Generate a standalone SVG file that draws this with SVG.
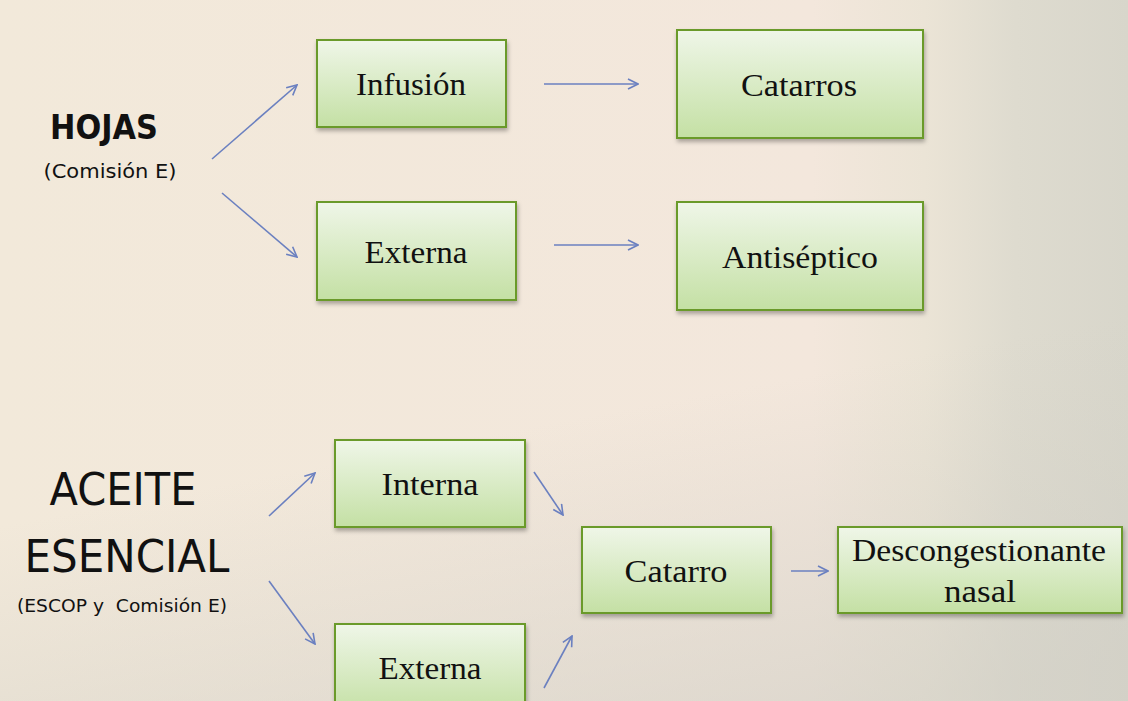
<svg xmlns="http://www.w3.org/2000/svg" width="1128" height="701" viewBox="0 0 1128 701">
<defs>
<linearGradient id="bg" x1="0" y1="0" x2="1" y2="0">
<stop offset="0" stop-color="#f2e9da"/>
<stop offset="0.72" stop-color="#f3e7dc"/>
<stop offset="0.82" stop-color="#ebe4d6"/>
<stop offset="0.9" stop-color="#dedbcf"/>
<stop offset="1" stop-color="#d8d6cb"/>
</linearGradient>
<linearGradient id="bg2" x1="0.5" y1="0" x2="0.8" y2="1">
<stop offset="0" stop-color="#d0cec5" stop-opacity="0"/>
<stop offset="0.55" stop-color="#d0cec5" stop-opacity="0"/>
<stop offset="1" stop-color="#d0cec5" stop-opacity="0.6"/>
</linearGradient>
<linearGradient id="box" x1="0" y1="0" x2="0" y2="1">
<stop offset="0" stop-color="#eff6e8"/>
<stop offset="1" stop-color="#c4e0a4"/>
</linearGradient>
<filter id="sh" x="-10%" y="-10%" width="130%" height="140%">
<feDropShadow dx="1" dy="3" stdDeviation="2" flood-color="#000" flood-opacity="0.3"/>
</filter>
<marker id="ah" viewBox="0 0 12 12" refX="11" refY="6" markerWidth="12" markerHeight="12" markerUnits="userSpaceOnUse" orient="auto">
<path d="M1,1 L11,6 L1,11" fill="none" stroke="#6b80c0" stroke-width="1.6"/>
</marker>
<style>
.b{fill:url(#box);stroke:#6a9a2c;stroke-width:2;filter:url(#sh)}
.t{font-family:"Liberation Serif","DejaVu Serif",serif;font-size:32px;fill:#111;text-anchor:middle}
.h{font-family:"Comic Sans MS","DejaVu Sans",sans-serif;fill:#111;text-anchor:middle}
.c line{stroke:#6b80c0;stroke-width:1.6;marker-end:url(#ah)}
</style>
</defs>
<rect width="1128" height="701" fill="url(#bg)"/>
<rect width="1128" height="701" fill="url(#bg2)"/>

<g id="hojas">
<text class="h" x="104" y="139" font-size="34" font-weight="bold" textLength="108" lengthAdjust="spacingAndGlyphs">HOJAS</text>
<text class="h" x="110" y="178" font-size="20" textLength="133" lengthAdjust="spacingAndGlyphs">(Comisión E)</text>
</g>
<g id="aceite">
<text class="h" x="123" y="505" font-size="44" textLength="147" lengthAdjust="spacingAndGlyphs">ACEITE</text>
<text class="h" x="127" y="572" font-size="44" textLength="205" lengthAdjust="spacingAndGlyphs">ESENCIAL</text>
<text class="h" x="122" y="612" font-size="18" xml:space="preserve" textLength="210" lengthAdjust="spacingAndGlyphs">(ESCOP y  Comisión E)</text>
</g>

<g id="infusion"><rect class="b" x="317" y="40" width="189" height="87"/><text class="t" x="411" y="95" textLength="110" lengthAdjust="spacingAndGlyphs">Infusión</text></g>
<g id="catarros"><rect class="b" x="677" y="30" width="246" height="108"/><text class="t" x="799" y="96" textLength="116" lengthAdjust="spacingAndGlyphs">Catarros</text></g>
<g id="externa1"><rect class="b" x="317" y="202" width="199" height="98"/><text class="t" x="416" y="263" textLength="103" lengthAdjust="spacingAndGlyphs">Externa</text></g>
<g id="antiseptico"><rect class="b" x="677" y="202" width="246" height="108"/><text class="t" x="800" y="268" textLength="156" lengthAdjust="spacingAndGlyphs">Antiséptico</text></g>
<g id="interna"><rect class="b" x="335" y="440" width="190" height="87"/><text class="t" x="430" y="495" textLength="97" lengthAdjust="spacingAndGlyphs">Interna</text></g>
<g id="externa2"><rect class="b" x="335" y="624" width="190" height="90"/><text class="t" x="430" y="679" textLength="103" lengthAdjust="spacingAndGlyphs">Externa</text></g>
<g id="catarro"><rect class="b" x="582" y="527" width="189" height="86"/><text class="t" x="676" y="582" textLength="103" lengthAdjust="spacingAndGlyphs">Catarro</text></g>
<g id="descongestionante"><rect class="b" x="838" y="527" width="284" height="86"/><text class="t" x="979" y="561" textLength="254" lengthAdjust="spacingAndGlyphs">Descongestionante</text><text class="t" x="980" y="602" textLength="72" lengthAdjust="spacingAndGlyphs">nasal</text></g>

<g id="connectors" class="c">
<line x1="212" y1="159" x2="297" y2="85"/>
<line x1="222" y1="193" x2="297" y2="257"/>
<line x1="544" y1="84" x2="638" y2="84"/>
<line x1="554" y1="245" x2="638" y2="245"/>
<line x1="269" y1="516" x2="315" y2="473"/>
<line x1="269" y1="581" x2="315" y2="644"/>
<line x1="534" y1="472" x2="563" y2="515"/>
<line x1="544" y1="688" x2="572" y2="636"/>
<line x1="791" y1="571" x2="828" y2="571"/>
</g>
</svg>
